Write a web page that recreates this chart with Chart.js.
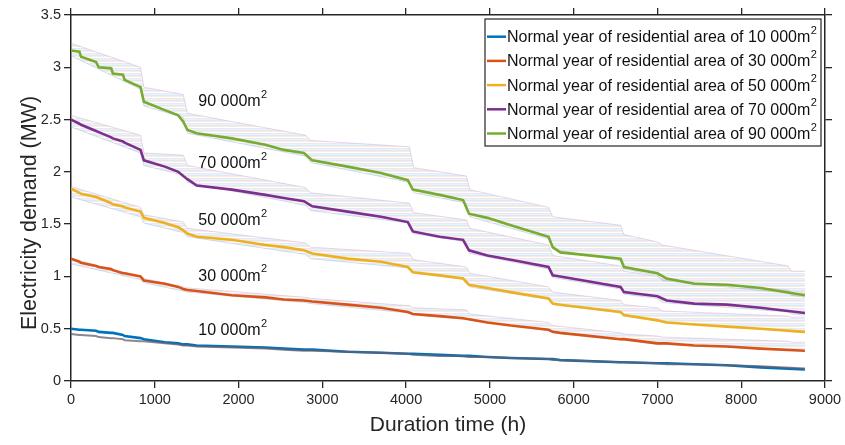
<!doctype html>
<html lang="en">
  <head>
    <meta charset="UTF-8" />
    <title>Electricity demand duration curves</title>
    <script src="https://cdn.jsdelivr.net/npm/chart.js"></script>
    <style>
      body { margin: 0; background: #fff; }
    </style>
  </head>
  <body>
    <canvas id="demandChart" width="845" height="445"></canvas>

    <script>
      // Duration time (h) for the bold "normal year" curves
      const hours = [0, 100, 120, 300, 330, 480, 500, 620, 640, 830, 870, 1120, 1280, 1340, 1390, 1500, 1920, 2320, 2540, 2780,
        2880, 3300, 3700, 4020, 4080, 4400, 4680, 4750, 4970, 5250, 5700, 5750, 5840, 6560, 6600, 7000, 7110, 7440, 7830, 8230, 8760];

      // Electricity demand (MW), normal year
      const demand10 = [0.50, 0.49, 0.49, 0.48, 0.47, 0.46, 0.46, 0.44, 0.43, 0.41, 0.40, 0.37, 0.36, 0.35, 0.35, 0.34, 0.33, 0.32, 0.31, 0.30,
        0.30, 0.28, 0.27, 0.26, 0.26, 0.25, 0.24, 0.24, 0.23, 0.22, 0.21, 0.21, 0.20, 0.18, 0.18, 0.17, 0.17, 0.16, 0.15, 0.13, 0.11];
      const demand30 = [1.17, 1.14, 1.13, 1.10, 1.09, 1.07, 1.06, 1.03, 1.03, 1.00, 0.96, 0.93, 0.90, 0.88, 0.87, 0.86, 0.82, 0.80, 0.78, 0.77,
        0.76, 0.73, 0.70, 0.66, 0.64, 0.62, 0.60, 0.59, 0.56, 0.53, 0.49, 0.47, 0.46, 0.40, 0.40, 0.36, 0.36, 0.34, 0.33, 0.31, 0.29];
      const demand50 = [1.84, 1.80, 1.79, 1.76, 1.75, 1.70, 1.69, 1.67, 1.66, 1.62, 1.56, 1.51, 1.47, 1.44, 1.41, 1.38, 1.35, 1.30, 1.28, 1.25,
        1.22, 1.17, 1.14, 1.09, 1.04, 1.01, 0.98, 0.92, 0.89, 0.85, 0.79, 0.74, 0.73, 0.66, 0.63, 0.58, 0.56, 0.54, 0.52, 0.50, 0.47];
      const demand70 = [2.50, 2.46, 2.45, 2.39, 2.38, 2.33, 2.32, 2.29, 2.28, 2.21, 2.11, 2.05, 2.00, 1.96, 1.93, 1.87, 1.83, 1.78, 1.75, 1.72,
        1.67, 1.62, 1.57, 1.52, 1.43, 1.38, 1.35, 1.25, 1.20, 1.16, 1.09, 1.01, 1.00, 0.90, 0.85, 0.81, 0.77, 0.74, 0.73, 0.70, 0.65];
      const demand90 = [3.16, 3.15, 3.10, 3.05, 3.00, 2.99, 2.94, 2.93, 2.88, 2.81, 2.67, 2.59, 2.54, 2.48, 2.40, 2.37, 2.32, 2.26, 2.21, 2.18,
        2.11, 2.05, 1.99, 1.92, 1.83, 1.78, 1.73, 1.60, 1.56, 1.49, 1.38, 1.28, 1.23, 1.17, 1.09, 1.03, 0.98, 0.93, 0.92, 0.89, 0.82];

      // other years of the 10 000 m2 area collapse into one grey curve
      const others10 = [0.45, 0.44, 0.44, 0.43, 0.42, 0.41, 0.41, 0.40, 0.39, 0.38, 0.38, 0.36, 0.35, 0.34, 0.34, 0.33, 0.32, 0.31, 0.30, 0.29,
        0.29, 0.28, 0.27, 0.26, 0.25, 0.24, 0.24, 0.23, 0.23, 0.22, 0.21, 0.20, 0.20, 0.18, 0.18, 0.17, 0.16, 0.16, 0.15, 0.14, 0.12];

      // Spread of the other years (upper and lower edges)
      const bandHours = [0, 830, 870, 1340, 1390, 2800, 2860, 4040, 4090, 4720, 4760, 5700, 5750, 6560, 6600, 7000, 7060, 8560, 8600, 8760];
      const band30Top = [1.17, 1.00, 0.98, 0.90, 0.89, 0.80, 0.79, 0.72, 0.70, 0.68, 0.64, 0.56, 0.53, 0.46, 0.45, 0.43, 0.42, 0.38, 0.37, 0.37];
      const band30Low = [1.12, 0.97, 0.94, 0.86, 0.85, 0.75, 0.74, 0.65, 0.63, 0.59, 0.58, 0.48, 0.46, 0.39, 0.39, 0.35, 0.35, 0.30, 0.30, 0.29];
      const band50Top = [1.86, 1.66, 1.59, 1.52, 1.46, 1.32, 1.28, 1.22, 1.16, 1.09, 1.03, 0.90, 0.85, 0.77, 0.73, 0.70, 0.67, 0.62, 0.61, 0.61];
      const band50Low = [1.76, 1.57, 1.51, 1.42, 1.38, 1.21, 1.17, 1.08, 1.03, 0.97, 0.90, 0.78, 0.73, 0.65, 0.62, 0.58, 0.56, 0.48, 0.47, 0.46];
      const band70Top = [2.54, 2.35, 2.18, 2.16, 2.06, 1.85, 1.80, 1.70, 1.61, 1.54, 1.46, 1.30, 1.20, 1.10, 1.05, 1.00, 0.97, 0.87, 0.85, 0.85];
      const band70Low = [2.43, 2.18, 2.06, 1.97, 1.90, 1.68, 1.63, 1.51, 1.41, 1.33, 1.22, 1.07, 0.99, 0.88, 0.83, 0.79, 0.75, 0.66, 0.64, 0.63];
      const band90Top = [3.23, 3.00, 2.81, 2.74, 2.56, 2.35, 2.30, 2.24, 2.04, 1.96, 1.83, 1.66, 1.57, 1.49, 1.40, 1.33, 1.30, 1.10, 1.05, 1.05];
      const band90Low = [3.11, 2.79, 2.63, 2.52, 2.37, 2.15, 2.09, 1.90, 1.80, 1.70, 1.57, 1.36, 1.26, 1.15, 1.07, 1.01, 0.96, 0.84, 0.82, 0.80];

      const areas = ["10 000", "30 000", "50 000", "70 000", "90 000"];
      const labelHour = [1520, 1520, 1520, 1520, 1520];
      const labelDemand = [0.48, 1.00, 1.53, 2.08, 2.67];

      const colors = ["rgb(0,114,189)", "rgb(217,83,25)", "rgb(237,177,32)", "rgb(126,47,142)", "rgb(119,172,48)"];
      const ink = "#262626";
      const fontFamily = "'Liberation Sans', Arial, sans-serif";

      const toPoints = (xs, ys) => xs.map((x, i) => ({ x: x, y: ys[i] }));

      // faint horizontal stripes stand in for the many thin yearly curves
      function stripes() {
        const c = document.createElement("canvas");
        c.width = 1;
        c.height = 5;
        const g = c.getContext("2d");
        const rows = ["rgba(110,165,225,0.24)", "rgba(245,165,95,0.22)", null, "rgba(175,130,205,0.2)", "rgba(120,200,220,0.18)"];
        rows.forEach((col, i) => {
          if (col) {
            g.fillStyle = col;
            g.fillRect(0, i, 1, 1);
          }
        });
        return g.createPattern(c, "repeat");
      }
      const bandFill = stripes();

      const datasets = [];
      const mains = [demand10, demand30, demand50, demand70, demand90];
      mains.forEach((vals, i) => {
        datasets.push({
          label: `Normal year of residential area of ${areas[i]}m2`,
          data: toPoints(hours, vals),
          borderColor: colors[i],
          borderWidth: 2.6,
          order: 1,
        });
      });
      datasets.push({
        label: "other years 10 000",
        data: toPoints(hours, others10),
        borderColor: "rgba(100,95,108,0.75)",
        borderWidth: 2,
        order: 0,
      });
      const bands = [
        [band30Top, band30Low],
        [band50Top, band50Low],
        [band70Top, band70Low],
        [band90Top, band90Low],
      ];
      bands.forEach(([top, low]) => {
        datasets.push({
          label: "band top",
          data: toPoints(bandHours, top),
          borderColor: "rgba(200,165,205,0.55)",
          borderWidth: 0.8,
          backgroundColor: bandFill,
          fill: "+1",
          order: 2,
        });
        datasets.push({
          label: "band low",
          data: toPoints(bandHours, low),
          borderColor: "rgba(150,175,210,0.5)",
          borderWidth: 0.8,
          fill: false,
          order: 2,
        });
      });

      // curve labels inside the plot
      const curveLabels = {
        id: "curveLabels",
        afterDatasetsDraw(chart) {
          const { ctx, scales } = chart;
          ctx.save();
          ctx.fillStyle = "#111";
          ctx.textBaseline = "middle";
          areas.forEach((a, i) => {
            const x = scales.x.getPixelForValue(labelHour[i]);
            const y = scales.y.getPixelForValue(labelDemand[i]);
            ctx.font = `16px ${fontFamily}`;
            const t = a + "m";
            ctx.fillText(t, x, y);
            const w = ctx.measureText(t).width;
            ctx.font = `11px ${fontFamily}`;
            ctx.fillText("2", x + w + 0.5, y - 7);
          });
          ctx.restore();
        },
      };

      // boxed legend in the upper right corner
      const boxLegend = {
        id: "boxLegend",
        afterDraw(chart) {
          const ctx = chart.ctx;
          const x0 = 485, y0 = 19, w = 336, h = 127;
          ctx.save();
          ctx.fillStyle = "#fff";
          ctx.fillRect(x0, y0, w, h);
          ctx.strokeStyle = ink;
          ctx.lineWidth = 1.2;
          ctx.strokeRect(x0, y0, w, h);
          ctx.textBaseline = "middle";
          areas.forEach((a, i) => {
            const y = y0 + 17.7 + i * 24.2;
            ctx.strokeStyle = colors[i];
            ctx.lineWidth = 2.5;
            ctx.beginPath();
            ctx.moveTo(x0 + 2, y);
            ctx.lineTo(x0 + 21, y);
            ctx.stroke();
            ctx.fillStyle = "#111";
            ctx.font = `16px ${fontFamily}`;
            const t = `Normal year of residential area of ${a}m`;
            ctx.fillText(t, x0 + 22, y + 1);
            const tw = ctx.measureText(t).width;
            ctx.font = `11px ${fontFamily}`;
            ctx.fillText("2", x0 + 22 + tw + 0.5, y - 6);
          });
          ctx.restore();
        },
      };

      const axisStyle = {
        border: { display: true, color: ink, width: 1.5 },
        grid: { display: true, drawOnChartArea: false, drawTicks: true, tickLength: 7, color: ink, lineWidth: 1.3 },
      };

      new Chart(document.getElementById("demandChart"), {
        type: "line",
        data: { datasets: datasets },
        plugins: [curveLabels, boxLegend],
        options: {
          responsive: false,
          animation: false,
          layout: { padding: 0 },
          elements: { point: { radius: 0 }, line: { tension: 0 } },
          scales: {
            x: {
              type: "linear",
              position: "bottom",
              min: 0,
              max: 9000,
              ...axisStyle,
              ticks: { stepSize: 1000, padding: 3, color: ink, font: { family: fontFamily, size: 14.5 }, maxRotation: 0, callback: (v) => String(v) },
              title: { display: true, text: "Duration time (h)", color: ink, font: { family: fontFamily, size: 21 }, padding: { bottom: 7 } },
              afterFit: (s) => { s.height = 64; },
            },
            x2: {
              type: "linear",
              position: "top",
              min: 0,
              max: 9000,
              ...axisStyle,
              ticks: { stepSize: 1000, callback: () => "" },
              afterFit: (s) => { s.height = 15; },
            },
            y: {
              type: "linear",
              position: "left",
              min: 0,
              max: 3.5,
              ...axisStyle,
              ticks: { stepSize: 0.5, padding: 3, color: ink, font: { family: fontFamily, size: 14.5 }, callback: (v) => String(v) },
              // trailing spaces nudge the centred title a little lower, as in the original
              title: { display: true, text: "Electricity demand (MW)     ", color: ink, font: { family: fontFamily, size: 21.5 }, padding: { top: 17 } },
              afterFit: (s) => { s.width = 71; },
            },
            y2: {
              type: "linear",
              position: "right",
              min: 0,
              max: 3.5,
              ...axisStyle,
              ticks: { stepSize: 0.5, callback: () => "" },
              afterFit: (s) => { s.width = 20; },
            },
          },
          plugins: {
            legend: { display: false },
            tooltip: { enabled: false },
          },
        },
      });
    </script>
  </body>
</html>
